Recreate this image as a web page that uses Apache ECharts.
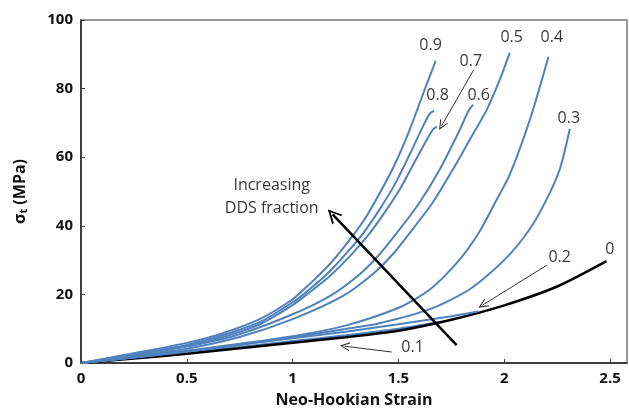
<!DOCTYPE html>
<html>
<head>
<meta charset="utf-8">
<script src="https://cdn.jsdelivr.net/npm/echarts@6/dist/echarts.min.js"></script>
<style>
  html, body { margin: 0; padding: 0; background: #fff; }
  #chart { width: 629px; height: 413px; }
</style>
</head>
<body>
<div id="chart"></div>
<script>
// curves: [strain, stress MPa]
const dds0 = [[0, 0], [0.25, 1.3], [0.5, 2.7], [0.75, 4.3], [1, 5.9], [1.25, 7.5], [1.5, 9.4], [1.75, 12.6], [2, 16.8], [2.25, 22.3], [2.483, 29.7]]
const dds01 = [[0, 0], [0.25, 1.5], [0.5, 3.0], [0.75, 4.7], [1, 6.4], [1.25, 8.1], [1.5, 10.0], [1.7, 12.0]]
const dds02 = [[0, 0], [0.25, 1.6], [0.5, 3.4], [0.75, 5.3], [1, 7.2], [1.25, 9.1], [1.5, 11.3], [1.75, 13.6], [1.876, 15.0]]
const dds03 = [[0, 0], [0.25, 1.6], [0.5, 3.3], [0.75, 5.3], [1, 7.5], [1.25, 9.9], [1.41, 11.6], [1.648, 15.7], [1.837, 21.5], [2.003, 30.2], [2.12, 39.0], [2.2, 47.7], [2.262, 56.4], [2.31, 68.3]]
const dds04 = [[0, 0], [0.25, 1.7], [0.5, 3.6], [0.75, 5.6], [1, 7.8], [1.25, 10.9], [1.5, 16.1], [1.65, 21.5], [1.79, 30.2], [1.884, 38.4], [1.965, 47.7], [2.026, 54.9], [2.121, 70.9], [2.209, 89.3]]
const dds05 = [[0, 0], [0.229, 1.7], [0.494, 4.1], [0.749, 7.6], [1, 12.8], [1.236, 19.5], [1.378, 25.9], [1.473, 31.7], [1.567, 39.0], [1.662, 46.8], [1.757, 56.4], [1.837, 65.1], [1.917, 73.8], [1.979, 82.6], [2.026, 90.4]]
const dds06 = [[0, 0], [0.229, 2.0], [0.494, 4.7], [0.749, 8.4], [1, 14.2], [1.175, 19.5], [1.317, 25.9], [1.411, 31.7], [1.506, 39.0], [1.6, 46.8], [1.695, 56.4], [1.79, 68.0], [1.83, 73.4], [1.853, 75.3]]
const dds07 = [[0, 0], [0.229, 2.0], [0.494, 4.9], [0.655, 7.3], [0.844, 11.3], [1, 16.9], [1.08, 20.6], [1.175, 25.3], [1.27, 31.1], [1.364, 37.8], [1.435, 43.9], [1.506, 50.6], [1.577, 58.7], [1.634, 65.1], [1.662, 68.0], [1.681, 68.9]]
const dds08 = [[0, 0], [0.229, 2.3], [0.494, 5.2], [0.655, 7.8], [0.844, 11.9], [1, 17.7], [1.08, 21.5], [1.175, 26.7], [1.27, 33.1], [1.34, 38.4], [1.411, 44.8], [1.482, 52.0], [1.553, 60.8], [1.62, 69.5], [1.648, 72.7], [1.668, 73.6]]
const dds09 = [[0, 0], [0.229, 2.6], [0.494, 5.8], [0.655, 8.4], [0.844, 12.8], [1, 18.6], [1.08, 23.0], [1.175, 28.8], [1.27, 36.0], [1.34, 41.9], [1.421, 50.6], [1.482, 57.8], [1.553, 68.0], [1.624, 79.7], [1.676, 88.1]]

// annotations, in data coordinates
const labelText = ['0.9', '0.8', '0.7', '0.6', '0.5', '0.4', '0.3', '0.2', '0', '0.1']
const labelAt = [[1.652, 92.7], [1.685, 77.9], [1.842, 87.8], [1.879, 77.9], [2.035, 94.8], [2.225, 94.8], [2.305, 71.2], [2.262, 30.8], [2.499, 33.1], [1.567, 4.65]]
const noteText = 'Increasing\nDDS fraction'
const noteAt = [0.901, 48.5]
const pointers = [[[1.856, 85.5], [1.704, 69.2]], [[2.201, 28.5], [1.898, 16.9]], [[1.468, 3.2], [1.246, 4.9]]]
const bigArrow = [[1.775, 5.2], [1.189, 43.3]]

const blue = '#4f81bd'
const font = 'Open Sans'
const head = 'path://M0,0 L6,11 L4.4,11 L0,2.8 L-4.4,11 L-6,11 Z'
const headBig = 'path://M0,0 L7,11 L5,11 L0,3.2 L-5,11 L-7,11 Z'

function curve(name, data, color, width) {
  return {
    name,
    type: 'line',
    data,
    showSymbol: false,
    smooth: 0.25,
    lineStyle: { color, width },
    silent: true
  }
}

const chart = echarts.init(document.getElementById('chart'))

chart.setOption({
  animation: false,
  grid: {
    left: 81,
    right: 2,
    top: 20,
    bottom: 49,
    show: true,
    borderColor: '#7a7a7a',
    borderWidth: 1.5
  },
  xAxis: {
    type: 'value',
    min: 0,
    max: 2.58,
    interval: 0.5,
    name: 'Neo-Hookian Strain',
    nameLocation: 'middle',
    nameGap: 29,
    nameTextStyle: { fontFamily: font, fontWeight: 'bold', fontSize: 16, color: '#111' },
    axisLine: { lineStyle: { color: '#222', width: 1.5 } },
    axisTick: { inside: true, length: 4, lineStyle: { color: '#444' } },
    axisLabel: { showMaxLabel: false, margin: 8, fontFamily: font, fontWeight: 'bold', fontSize: 15, color: '#111' },
    splitLine: { show: false }
  },
  yAxis: {
    type: 'value',
    min: 0,
    max: 100,
    interval: 20,
    name: '{s|σ}{t|t}{s| (MPa)}',
    nameLocation: 'middle',
    nameGap: 52,
    nameTextStyle: {
      rich: {
        s: { fontFamily: font, fontWeight: 'bold', fontSize: 16, color: '#111' },
        t: { fontFamily: font, fontWeight: 'bold', fontSize: 11, color: '#111', verticalAlign: 'bottom', padding: [6, 0, 0, 0] }
      }
    },
    axisLine: { show: true, lineStyle: { color: '#222', width: 1.5 } },
    axisTick: { show: true, inside: true, length: 4, lineStyle: { color: '#444' } },
    axisLabel: { margin: 8, fontFamily: font, fontWeight: 'bold', fontSize: 15, color: '#111' },
    splitLine: { show: false }
  },
  series: [
    curve('0.1', dds01, blue, 2),
    curve('0', dds0, '#000', 2.5),
    curve('0.2', dds02, blue, 2),
    curve('0.3', dds03, blue, 2),
    curve('0.4', dds04, blue, 2),
    curve('0.5', dds05, blue, 2),
    curve('0.6', dds06, blue, 2),
    curve('0.7', dds07, blue, 2),
    curve('0.8', dds08, blue, 2),
    curve('0.9', dds09, blue, 2),
    {
      name: 'arrows',
      type: 'line',
      data: [],
      silent: true,
      markLine: {
        silent: true,
        animation: false,
        label: { show: false },
        symbol: ['none', 'none'],
        data: pointers.map(p => [
          { coord: p[0], symbol: 'none', lineStyle: { color: '#333', width: 1, type: 'solid' } },
          { coord: p[1], symbol: head, symbolSize: [9, 10] }
        ]).concat([[
          { coord: bigArrow[0], symbol: 'none', lineStyle: { color: '#000', width: 2.5, type: 'solid' } },
          { coord: bigArrow[1], symbol: headBig, symbolSize: [14, 14] }
        ]])
      }
    },
    {
      name: 'labels',
      type: 'scatter',
      symbolSize: 1,
      itemStyle: { color: 'transparent' },
      silent: true,
      z: 5,
      label: {
        show: true,
        position: 'inside',
        formatter: p => p.name,
        fontFamily: font,
        fontSize: 16,
        fontWeight: 500,
        lineHeight: 23,
        color: '#000',
        textBorderWidth: 0
      },
      data: labelText.map((t, i) => ({ name: t, value: labelAt[i] }))
        .concat([{ name: noteText, value: noteAt }])
    }
  ]
})
</script>
</body>
</html>
